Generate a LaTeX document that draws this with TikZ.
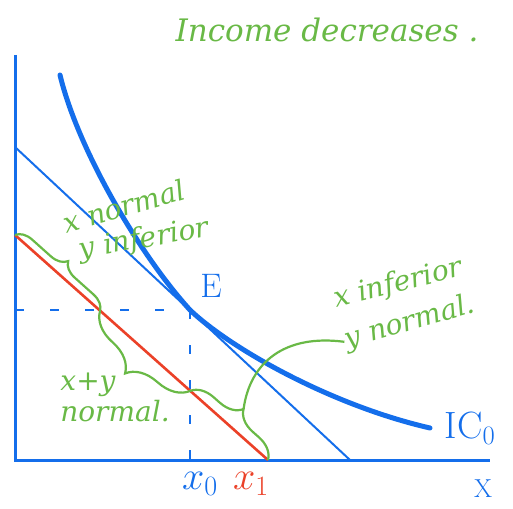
\RequirePackage{fix-cm}
\documentclass[tikz,border=0pt]{standalone}
\usepackage{fontspec}
\usepackage{tikz}
\usetikzlibrary{calc,decorations.pathreplacing}
\newfontfamily\handfont{DejaVu Serif}
\definecolor{penblue}{RGB}{20,110,235}
\definecolor{pengreen}{RGB}{105,185,70}
\definecolor{penred}{RGB}{235,65,40}
\tikzset{
  axis/.style={penblue, line width=3pt},
  budget/.style={line width=2pt},
  icurve/.style={penblue, line width=5pt, line cap=round},
  guide/.style={penblue, line width=1.6pt, dash pattern=on 9pt off 26pt},
  brc/.style={pengreen, line width=2.2pt, decorate,
              decoration={brace, amplitude=#1}},
  brc/.default=16pt,
  link/.style={pengreen, line width=2.2pt},
  note/.style={pengreen, font=\handfont\itshape\fontsize{28}{28}\selectfont,
               inner sep=1pt},
  lbl/.style={penblue, font=\fontsize{34}{34}\selectfont, inner sep=1pt},
}

\begin{document}
\begin{tikzpicture}[x=1pt,y=-1pt]
  \useasboundingbox (0,0) rectangle (513,508);
  % axes
  \coordinate (O) at (15,460);
  \coordinate (ytop) at (15,55);
  \coordinate (xend) at (490,460);
  % budget lines
  \coordinate (b0) at (15,147);  \coordinate (b1) at (350,460);
  \coordinate (r0) at (15,235);  \coordinate (r3) at (268,460);
  \coordinate (r1) at (100,311); \coordinate (r2) at (190,391);
  % equilibrium
  \coordinate (E) at (190,310);
  \coordinate (ey) at (15,310);  \coordinate (ex) at (190,460);
  \coordinate (ic0) at (60,75);  \coordinate (ic1) at (430,428);

  \draw[axis] (ytop) -- (O) -- (xend);
  \draw[guide] (ey) -- (E);
  \draw[guide] (E) -- (ex);
  \draw[budget, penblue] (b0) -- (b1);
  \draw[budget, penred, line width=2.6pt] (r0) -- (r3);
  \draw[icurve] (ic0) .. controls (78,150) and (140,255) .. (E)
    .. controls (230,348) and (330,405) .. (ic1);

  \node[lbl] (lblE) at (211,286) {E};
  \node[lbl, font=\fontsize{38}{38}\selectfont] (lblIC) at (470,428) {IC$_0$};
  \node[lbl, font=\fontsize{40}{40}\selectfont] (lblx0) at (200,484) {$x_0$};
  \node[lbl, penred, font=\fontsize{40}{40}\selectfont] (lblx1) at (251,484) {$x_1$};
  \node[lbl, font=\fontsize{26}{26}\selectfont] (lblX) at (483,489) {X};

  % notes
  \node[note, font=\handfont\itshape\fontsize{31}{31}\selectfont] (title)
    at (327,30) {Income decreases .};
  \node[note, rotate=16] (lblL1) at (124,206) {x normal};
  \node[note, rotate=10] (lblL2) at (144,240) {y inferior};
  \node[note] (lblM1) at (88,385) {x+y};
  \node[note] (lblM2) at (115,411) {normal.};
  \node[note, rotate=14] (lblR1) at (398,284) {x inferior};
  \node[note, rotate=16] (lblR2) at (410,323) {y normal.};

  \draw[brc] (r0) -- (r1);
  \draw[brc=30pt] (r2) -- (r1);
  \draw[brc=22pt] (r2) -- (r3);
  \coordinate (tip) at ($($(r2)!0.5!(r3)$)!22pt!90:(r3)$);
  \draw[link] (tip) .. controls (250,362) and (285,334) .. (lblR2.west);
\end{tikzpicture}
\end{document}
